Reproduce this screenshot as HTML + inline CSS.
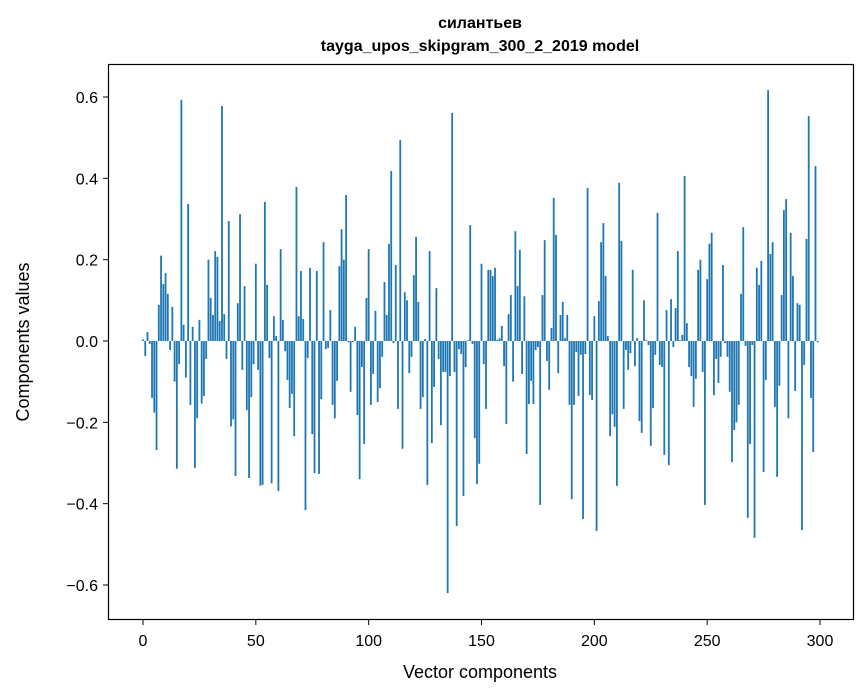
<!DOCTYPE html>
<html><head><meta charset="utf-8"><style>
body{margin:0;background:#fff}
svg{display:block;font-family:"Liberation Sans","DejaVu Sans",sans-serif}
</style></head><body>
<svg id="chart" width="867" height="696" viewBox="0 0 867 696">
<text x="480" y="28" text-anchor="middle" font-size="16" font-weight="bold">силантьев</text>
<text x="480" y="51" text-anchor="middle" font-size="16" font-weight="bold">tayga_upos_skipgram_300_2_2019 model</text>
<g id="bars"></g>
<g id="xticks"></g>
<g id="yticks"></g>
<rect x="108.5" y="64.5" width="745" height="555" fill="none" stroke="#000" stroke-width="1.2"/>
<text x="480" y="678" text-anchor="middle" font-size="18">Vector components</text>
<text transform="translate(29,342) rotate(-90)" text-anchor="middle" font-size="18">Components values</text>
</svg>
<script>
const values = [
0.004,-0.037,0.022,-0.007,-0.14,-0.176,-0.268,0.089,0.21,0.14,
0.167,0.116,-0.022,0.084,-0.10,-0.314,-0.057,0.593,0.04,-0.09,
0.337,-0.157,0.035,-0.312,-0.19,0.052,-0.154,-0.135,-0.044,0.2,
0.106,0.064,0.221,0.207,0.049,0.578,0.066,-0.044,0.295,-0.21,
-0.193,-0.332,0.093,0.312,-0.071,0.135,-0.17,-0.337,-0.138,-0.057,
0.19,-0.071,-0.356,-0.354,0.342,0.138,-0.042,-0.35,0.061,0.012,
-0.369,0.226,0.052,-0.025,-0.096,-0.165,-0.13,-0.234,0.379,0.061,
0.172,0.054,-0.416,-0.042,0.18,-0.229,-0.325,0.172,-0.327,-0.143,
0.243,-0.02,-0.017,0.076,-0.157,-0.19,-0.098,0.184,0.275,0.2,
0.359,-0.003,-0.125,-0.003,0.035,-0.182,-0.34,-0.064,-0.253,0.106,
0.226,-0.157,-0.081,0.074,-0.15,-0.116,-0.039,0.145,0.064,0.239,
0.418,-0.005,0.187,-0.167,0.494,-0.265,0.12,0.1,-0.079,-0.039,
0.162,0.256,0.096,-0.167,-0.138,0.005,-0.354,0.221,-0.251,-0.113,
0.13,-0.044,-0.207,-0.076,-0.076,-0.62,-0.086,0.561,-0.076,-0.455,
-0.02,-0.032,-0.381,-0.064,0.002,0.285,-0.007,-0.239,-0.352,-0.302,
0.19,-0.057,-0.167,0.175,0.175,0.16,0.18,0.003,0.007,0.037,
-0.062,-0.204,0.066,0.113,-0.1,0.27,0.135,0.224,-0.081,0.11,
-0.278,-0.155,-0.098,-0.155,-0.022,-0.015,-0.403,0.113,0.248,-0.049,
-0.12,0.032,0.352,0.261,-0.079,0.064,0.096,0.007,0.064,-0.157,
-0.389,-0.157,-0.027,-0.135,-0.034,-0.438,-0.032,0.376,-0.133,-0.145,
0.061,-0.467,0.098,0.243,0.29,0.16,0.012,-0.234,-0.18,-0.211,
-0.356,0.389,0.246,-0.167,-0.022,-0.071,-0.03,0.175,-0.062,0.007,
-0.197,-0.226,0.1,0.002,-0.01,-0.258,-0.165,-0.034,0.315,-0.059,
-0.064,-0.28,0.076,-0.305,0.103,-0.015,0.081,0.221,0.002,0.015,
0.406,0.044,-0.064,-0.086,-0.162,-0.093,0.175,0.2,-0.076,-0.403,
0.152,0.239,0.266,-0.133,-0.044,-0.103,-0.039,0.187,-0.005,-0.039,
-0.125,-0.298,-0.219,-0.2,-0.157,0.116,0.28,-0.012,-0.435,-0.253,
-0.01,-0.484,0.18,0.138,0.197,-0.322,-0.096,0.617,0.214,0.243,
-0.162,-0.334,-0.11,0.113,0.322,0.349,-0.19,0.266,0.16,-0.123,
0.093,0.089,-0.465,-0.059,0.251,0.553,-0.14,-0.273,0.43,-0.003
];
const xTicks = [0,50,100,150,200,250,300];
const yTicks = [-0.6,-0.4,-0.2,0.0,0.2,0.4,0.6];
const yTickLabels = ["\u22120.6","\u22120.4","\u22120.2","0.0","0.2","0.4","0.6"];

const NS="http://www.w3.org/2000/svg";
const xs = v => 143 + v*(820-143)/300;
const ys = v => 341 - v*(585-97)/1.2;
const bars=document.getElementById('bars');
values.forEach((v,i)=>{
  const r=document.createElementNS(NS,'rect');
  const y0=ys(0), y1=ys(v);
  r.setAttribute('x',xs(i-0.4));
  r.setAttribute('width',xs(0.8)-xs(0));
  r.setAttribute('y',Math.min(y0,y1));
  r.setAttribute('height',Math.abs(y1-y0));
  r.setAttribute('fill','#1f77b4');
  
  
  bars.appendChild(r);
});
const xg=document.getElementById('xticks');
xTicks.forEach(t=>{
  const l=document.createElementNS(NS,'line');
  l.setAttribute('x1',xs(t));l.setAttribute('x2',xs(t));
  l.setAttribute('y1',619.5);l.setAttribute('y2',625);
  l.setAttribute('stroke','#000');l.setAttribute('stroke-width','1');
  
  
  xg.appendChild(l);
  const tx=document.createElementNS(NS,'text');
  tx.setAttribute('x',xs(t));tx.setAttribute('y',646);
  tx.setAttribute('text-anchor','middle');tx.setAttribute('font-size','16');
  tx.textContent=t;
  
  
  xg.appendChild(tx);
});
const yg=document.getElementById('yticks');
yTicks.forEach((t,k)=>{
  const l=document.createElementNS(NS,'line');
  l.setAttribute('x1',103);l.setAttribute('x2',108.5);
  l.setAttribute('y1',ys(t));l.setAttribute('y2',ys(t));
  l.setAttribute('stroke','#000');l.setAttribute('stroke-width','1');
  
  
  yg.appendChild(l);
  const tx=document.createElementNS(NS,'text');
  tx.setAttribute('x',98);tx.setAttribute('y',ys(t)+6);
  tx.setAttribute('text-anchor','end');tx.setAttribute('font-size','16');
  tx.textContent=yTickLabels[k];
  
  
  yg.appendChild(tx);
});
</script>
</body></html>
